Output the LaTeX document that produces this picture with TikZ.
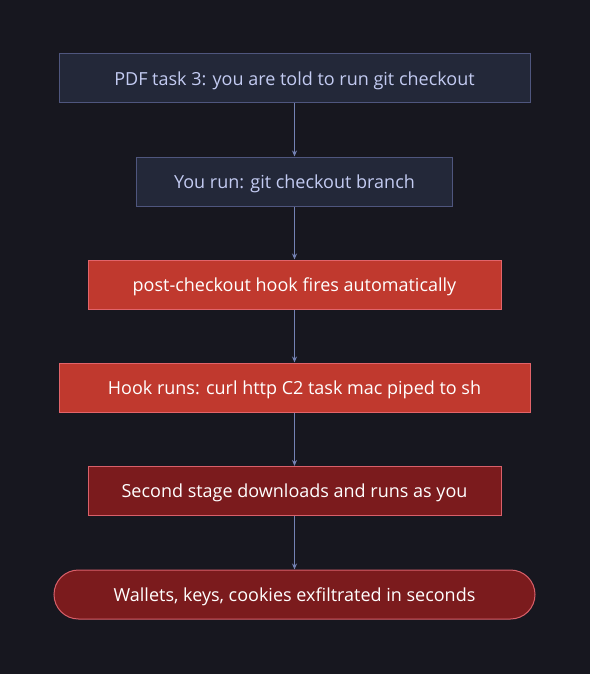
\documentclass[tikz,border=0pt]{standalone}
\usepackage{fontspec}
\setmainfont{Open Sans}
\usepackage{tikz}
\usetikzlibrary{arrows.meta,positioning}

\definecolor{bgdark}{HTML}{17171F}
\definecolor{navyfill}{HTML}{232839}
\definecolor{navyline}{HTML}{4F567E}
\definecolor{navytext}{HTML}{C3CBF2}
\definecolor{redfill}{HTML}{C0392E}
\definecolor{redline}{HTML}{E2646A}
\definecolor{darkfill}{HTML}{7B1B1D}
\definecolor{darkline}{HTML}{D9606A}
\definecolor{flowline}{HTML}{7482B4}

\tikzset{
  stepnode/.style={draw, line width=1pt, minimum height=49pt, inner sep=0pt,
    font=\fontsize{18}{21}\selectfont, text height=0.714em+6pt, text depth=0pt},
  cmdnode/.style={stepnode, fill=navyfill, draw=navyline, text=navytext},
  hooknode/.style={stepnode, fill=redfill, draw=redline, text=white},
  harmnode/.style={stepnode, fill=darkfill, draw=darkline, text=white},
  flow/.style={draw=flowline, line width=1pt, -{Stealth[length=6pt,width=5pt]}}
}

\begin{document}
\begin{tikzpicture}[x=1pt,y=-1pt]
        \fill[bgdark] (0,0) rectangle (590,674);
        \useasboundingbox (0,0) rectangle (590,674);

        \node[cmdnode, minimum width=471pt] at (294.5,78.5) (task){PDF task 3: you are told to run git checkout};
        \node[cmdnode, minimum width=316pt] at (294.5,181.5) (run){You run: git checkout branch};
        \node[hooknode, minimum width=413pt] at (294.5,284.5) (fires){post-checkout hook fires automatically};
        \node[hooknode, minimum width=471pt] at (294.5,387.5) (curl){Hook runs: curl http C2 task mac piped to sh};
        \node[harmnode, minimum width=413pt] at (294.5,491) (stage){Second stage downloads and runs as you};
        \node[harmnode, minimum width=481pt, rounded corners=24.5pt] at (294.5,594.5) (loot){Wallets, keys, cookies exfiltrated in seconds};

        \draw[flow]
        (task) edge (run)
        (run) edge (fires)
        (fires) edge (curl)
        (curl) edge (stage)
        (stage) edge (loot);
    \end{tikzpicture}
\end{document}
